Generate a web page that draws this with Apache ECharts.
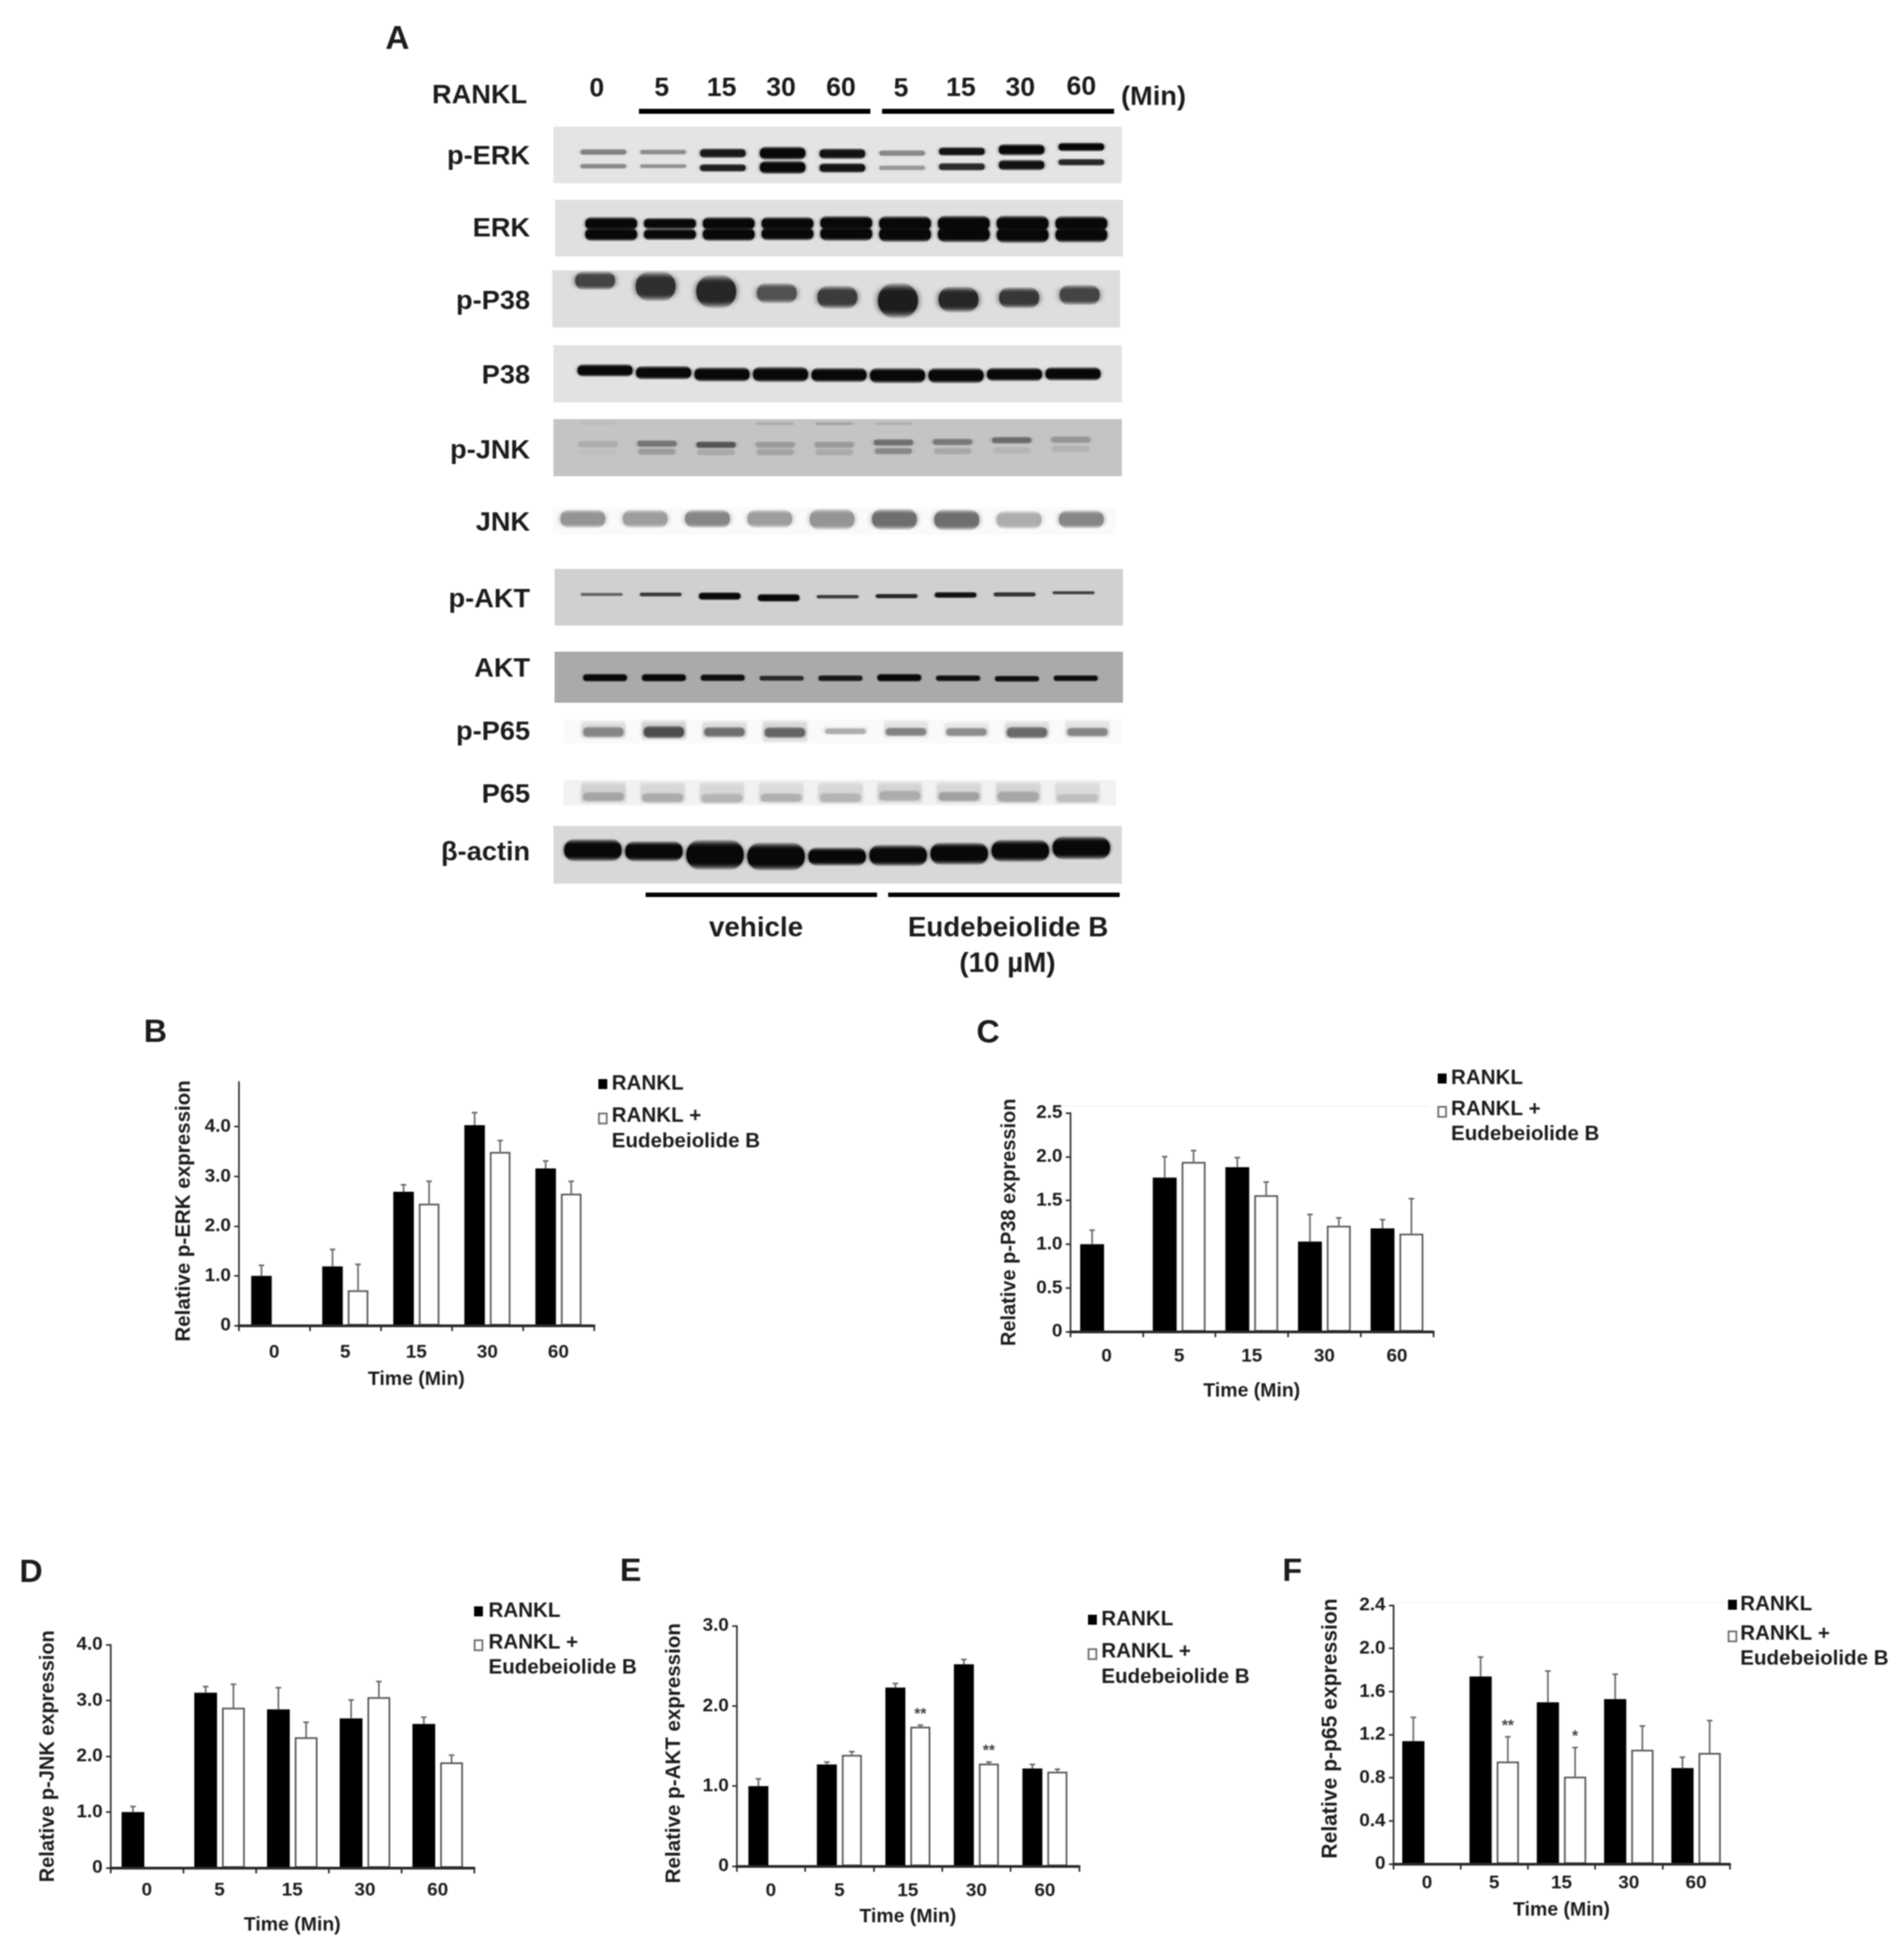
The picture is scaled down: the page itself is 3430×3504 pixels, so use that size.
<!DOCTYPE html>
<html>

<head>
    <meta charset="utf-8">
    <title>RANKL blots and p-protein expression</title>
    <script src="https://cdn.jsdelivr.net/npm/echarts@6/dist/echarts.min.js"></script>
    <style>
        html, body { margin: 0; padding: 0; background: #fff; }
        #main { width: 3430px; height: 3504px; filter: blur(1.1px); }
    </style>
</head>

<body>
    <div id="main"></div>

    <script type="text/javascript">
    var times = ['0', '5', '15', '30', '60'];

    var erkRankl = [1.0, 1.19, 2.69, 4.03, 3.16];
    var erkRanklSd = [0.21, 0.34, 0.14, 0.25, 0.15];
    var erkEude = [null, 0.71, 2.45, 3.49, 2.65];
    var erkEudeSd = [null, 0.52, 0.45, 0.23, 0.25];
    var erkTicks = [0, 1, 2, 3, 4];

    var p38Rankl = [1.0, 1.76, 1.88, 1.03, 1.18];
    var p38RanklSd = [0.16, 0.24, 0.11, 0.31, 0.10];
    var p38Eude = [null, 1.94, 1.56, 1.21, 1.12];
    var p38EudeSd = [null, 0.13, 0.15, 0.09, 0.40];
    var p38Ticks = [0, 0.5, 1, 1.5, 2, 2.5];

    var jnkRankl = [1.0, 3.14, 2.84, 2.68, 2.58];
    var jnkRanklSd = [0.10, 0.11, 0.39, 0.33, 0.12];
    var jnkEude = [null, 2.87, 2.34, 3.06, 1.89];
    var jnkEudeSd = [null, 0.42, 0.27, 0.28, 0.13];
    var jnkTicks = [0, 1, 2, 3, 4];

    var aktRankl = [1.0, 1.27, 2.23, 2.52, 1.22];
    var aktRanklSd = [0.09, 0.03, 0.05, 0.06, 0.05];
    var aktEude = [null, 1.39, 1.74, 1.28, 1.18];
    var aktEudeSd = [null, 0.04, 0.02, 0.02, 0.03];
    var aktMarks = ['', '', '**', '**', ''];
    var aktTicks = [0, 1, 2, 3];

    var p65Rankl = [1.14, 1.74, 1.50, 1.53, 0.89];
    var p65RanklSd = [0.22, 0.18, 0.29, 0.23, 0.10];
    var p65Eude = [null, 0.95, 0.81, 1.06, 1.03];
    var p65EudeSd = [null, 0.23, 0.27, 0.22, 0.30];
    var p65Marks = ['', '**', '*', '', ''];
    var p65Ticks = [0, 0.4, 0.8, 1.2, 1.6, 2, 2.4];

    // blot data, one value per lane: band position (0 top of the blot, 1 bottom),
    // band thickness (same unit) and signal (0 none, 1 black)
    var lanes = ['0', '5', '15', '30', '60', '5', '15', '30', '60'];

    var pErkUpperPos = [.45, .45, .47, .47, .48, .47, .44, .41, .36];
    var pErkUpperThick = [.07, .06, .11, .15, .12, .07, .10, .13, .10];
    var pErkUpperSignal = [.45, .4, .92, 1, .95, .42, .95, 1, 1];
    var pErkLowerPos = [.70, .70, .73, .72, .73, .73, .71, .68, .63];
    var pErkLowerThick = [.06, .05, .09, .15, .11, .06, .09, .12, .08];
    var pErkLowerSignal = [.42, .38, .9, 1, .95, .35, .85, .95, .85];

    var erkUpperPos = [.42, .42, .42, .42, .41, .42, .42, .42, .42];
    var erkLowerPos = [.61, .61, .61, .60, .60, .61, .61, .62, .62];
    var erkThick = [.15, .13, .15, .15, .16, .17, .18, .18, .17];
    var erkSignal = [1, 1, 1, 1, 1, 1, 1, 1, 1];

    var pP38Pos = [.18, .28, .37, .40, .47, .53, .51, .48, .43];
    var pP38Thick = [.20, .32, .36, .22, .25, .38, .28, .23, .22];
    var pP38Signal = [.72, .82, .86, .66, .76, .9, .86, .78, .72];

    var p38Pos = [.44, .48, .51, .51, .52, .53, .53, .51, .50];
    var p38Thick = [.14, .15, .16, .17, .16, .17, .17, .15, .15];
    var p38Signal = [1, 1, 1, 1, 1, 1, 1, 1, 1];

    var pJnkUpperPos = [.44, .43, .45, .45, .45, .41, .40, .37, .36];
    var pJnkUpperSignal = [.12, .42, .6, .22, .22, .45, .4, .48, .25];
    var pJnkLowerPos = [.57, .57, .58, .58, .58, .56, .56, .55, .52];
    var pJnkLowerSignal = [.03, .22, .14, .18, .14, .32, .15, .08, .1];
    var pJnkThick = [.08, .08, .08, .08, .08, .08, .08, .08, .08];
    var pJnkTopPos = [.07, .07, .07, .08, .08, .08, .08, .08, .08];
    var pJnkTopThick = [.04, .04, .04, .04, .04, .04, .04, .04, .04];
    var pJnkTopSignal = [.04, 0, 0, .12, .16, .1, 0, 0, 0];

    var jnkPos = [.42, .42, .42, .42, .44, .44, .46, .46, .44];
    var jnkThick = [.42, .42, .42, .42, .48, .48, .48, .42, .42];
    var jnkSignal = [.42, .38, .48, .38, .42, .58, .58, .32, .48];

    var pAktPos = [.45, .45, .48, .51, .49, .48, .46, .45, .42];
    var pAktThick = [.04, .05, .09, .09, .045, .055, .07, .055, .04];
    var pAktSignal = [.55, .75, 1, 1, .75, .85, .95, .78, .72];

    var aktPos = [.51, .51, .51, .52, .52, .51, .52, .53, .52];
    var aktThick = [.10, .10, .09, .07, .08, .10, .08, .08, .08];
    var aktSignal = [1, 1, .97, .8, .9, 1, .95, .95, .97];

    var pP65Pos = [.53, .53, .53, .55, .50, .52, .53, .55, .53];
    var pP65Thick = [.30, .34, .28, .30, .18, .24, .24, .32, .26];
    var pP65Signal = [.48, .72, .58, .62, .32, .5, .45, .6, .48];
    var pP65SmearPos = [.45, .45, .45, .50, .45, .42, .45, .45, .42];
    var pP65SmearThick = [.5, .55, .5, .6, .25, .5, .45, .5, .5];
    var pP65SmearSignal = [.12, .16, .12, .14, .04, .09, .08, .12, .09];

    var p65Pos = [.66, .70, .72, .70, .70, .62, .65, .66, .72];
    var p65Thick = [.25, .26, .26, .24, .26, .28, .26, .3, .24];
    var p65Signal = [.33, .3, .26, .28, .26, .3, .35, .32, .22];
    var p65SmearPos = [.5, .5, .5, .5, .5, .5, .5, .5, .5];
    var p65SmearThick = [.55, .55, .55, .55, .55, .55, .55, .55, .55];
    var p65SmearSignal = [.14, .11, .11, .1, .11, .13, .11, .13, .1];

    var actinPos = [.42, .44, .50, .53, .53, .51, .48, .43, .38];
    var actinThick = [.24, .22, .32, .30, .20, .23, .24, .24, .25];
    var actinSignal = [1, 1, 1, 1, 1, 1, 1, 1, 1];

    var font = '"Liberation Sans", Arial, sans-serif';
    var ink = '#1c1c1c';

    // band rows are zipped per lane, corner is only set for the square smears
    function row(pos, thick, signal, width, corner) {
        return { pos: pos, thick: thick, signal: signal, width: width, corner: corner };
    }

    // left, top, w, h of each blot, then x of first and last lane
    var blots = [
        { label: 'p-ERK', labelY: 282, left: 997, top: 228, w: 1024, h: 102, lane0: 1087, lane8: 1948, bg: 228, blur: 6,
          rows: [row(pErkUpperPos, pErkUpperThick, pErkUpperSignal, .76), row(pErkLowerPos, pErkLowerThick, pErkLowerSignal, .76)] },
        { label: 'ERK', labelY: 412, left: 1000, top: 360, w: 1023, h: 102, lane0: 1101, lane8: 1948, bg: 224, blur: 6,
          rows: [row(erkUpperPos, erkThick, erkSignal, .88), row(erkLowerPos, erkThick, erkSignal, .88)] },
        { label: 'p-P38', labelY: 543, left: 995, top: 487, w: 1023, h: 103, lane0: 1072, lane8: 1945, bg: 222, blur: 12,
          rows: [row(pP38Pos, pP38Thick, pP38Signal, .66)] },
        { label: 'P38', labelY: 677, left: 997, top: 622, w: 1024, h: 103, lane0: 1090, lane8: 1933, bg: 226, blur: 6,
          rows: [row(p38Pos, p38Thick, p38Signal, .94)] },
        { label: 'p-JNK', labelY: 812, left: 997, top: 755, w: 1024, h: 103, lane0: 1077, lane8: 1929, bg: 196, blur: 8,
          rows: [row(pJnkUpperPos, pJnkThick, pJnkUpperSignal, .66), row(pJnkLowerPos, pJnkThick, pJnkLowerSignal, .62), row(pJnkTopPos, pJnkTopThick, pJnkTopSignal, .62)] },
        { label: 'JNK', labelY: 942, left: 996, top: 914, w: 1014, h: 49, lane0: 1050, lane8: 1948, bg: 250, blur: 10,
          rows: [row(jnkPos, jnkThick, jnkSignal, .72)] },
        { label: 'p-AKT', labelY: 1080, left: 999, top: 1025, w: 1024, h: 102, lane0: 1084, lane8: 1934, bg: 208, blur: 4,
          rows: [row(pAktPos, pAktThick, pAktSignal, .70)] },
        { label: 'AKT', labelY: 1205, left: 999, top: 1174, w: 1024, h: 92, lane0: 1090, lane8: 1938, bg: 170, blur: 4,
          rows: [row(aktPos, aktThick, aktSignal, .74)] },
        { label: 'p-P65', labelY: 1319, left: 1015, top: 1296, w: 1005, h: 43, lane0: 1087, lane8: 1959, bg: 250, blur: 6,
          rows: [row(pP65SmearPos, pP65SmearThick, pP65SmearSignal, .72, 3), row(pP65Pos, pP65Thick, pP65Signal, .66)] },
        { label: 'P65', labelY: 1432, left: 1015, top: 1405, w: 995, h: 46, lane0: 1087, lane8: 1941, bg: 242, blur: 6,
          rows: [row(p65SmearPos, p65SmearThick, p65SmearSignal, .74, 3), row(p65Pos, p65Thick, p65Signal, .68)] },
        { label: '\u03b2-actin', labelY: 1536, left: 997, top: 1488, w: 1024, h: 104, lane0: 1068, lane8: 1948, bg: 216, blur: 6,
          rows: [row(actinPos, actinThick, actinSignal, .94)] }
    ];

    var panels = [
        { letter: 'B', letterX: 280, letterY: 1861, yName: 'Relative p-ERK expression', nameSize: 37, namePad: [0, 26, 0, 0], nameGap: 80, timeGap: 80, labelGap: 32,
          left: 430, right: 1070, top: 1949, bottom: 2388, max: 4.9, ticks: erkTicks, barW: 37,
          rankl: erkRankl, ranklSd: erkRanklSd, eude: erkEude, eudeSd: erkEudeSd, marks: null,
          legX: 1078, legTextX: 1102, legY: [1953, 2015, 2011, 2057] },
        { letter: 'C', letterX: 1780, letterY: 1862, yName: 'Relative p-P38 expression', nameSize: 36, namePad: 0, nameGap: 91, timeGap: 90, labelGap: 28,
          left: 1928, right: 2582, top: 2005, bottom: 2399, max: 2.5, ticks: p38Ticks, barW: 43,
          rankl: p38Rankl, ranklSd: p38RanklSd, eude: p38Eude, eudeSd: p38EudeSd, marks: null,
          legX: 2590, legTextX: 2614, legY: [1943, 2003, 1999, 2044], faint: [1915, 1992, 660] },
        { letter: 'D', letterX: 56, letterY: 2834, yName: 'Relative p-JNK expression', nameSize: 36, namePad: 0, nameGap: 94, timeGap: 86, labelGap: 24,
          left: 199, right: 854, top: 2963, bottom: 3365, max: 4, ticks: jnkTicks, barW: 41,
          rankl: jnkRankl, ranklSd: jnkRanklSd, eude: jnkEude, eudeSd: jnkEudeSd, marks: null,
          legX: 854, legTextX: 880, legY: [2903, 2964, 2960, 3005] },
        { letter: 'E', letterX: 1136, letterY: 2832, yName: 'Relative p-AKT expression', nameSize: 37, namePad: [0, 26, 0, 0], nameGap: 94, timeGap: 74, labelGap: 28,
          left: 1327, right: 1944, top: 2929, bottom: 3362, max: 3, ticks: aktTicks, barW: 36,
          rankl: aktRankl, ranklSd: aktRanklSd, eude: aktEude, eudeSd: aktEudeSd, marks: aktMarks,
          legX: 1960, legTextX: 1984, legY: [2918, 2980, 2976, 3022] },
        { letter: 'F', letterX: 2328, letterY: 2832, yName: 'Relative p-p65 expression', nameSize: 38, namePad: [0, 0, 0, 22], nameGap: 93, timeGap: 66, labelGap: 18,
          left: 2510, right: 3116, top: 2892, bottom: 3358, max: 2.4, ticks: p65Ticks, barW: 40,
          rankl: p65Rankl, ranklSd: p65RanklSd, eude: p65Eude, eudeSd: p65EudeSd, marks: p65Marks,
          legX: 3113, legTextX: 3135, legY: [2891, 2948, 2944, 2989], faint: [2515, 2886, 595] }
    ];

    var barGapPx = 9;

    var grid = [];
    var xAxis = [];
    var yAxis = [];
    var series = [];
    var graphic = [];

    function text(str, x, y, size, align) {
        graphic.push({
            type: 'text', x: x, y: y, silent: true,
            style: {
                text: str, fill: ink, fontFamily: font, fontWeight: 'bold', fontSize: size,
                textAlign: align || 'center', textVerticalAlign: 'middle',
                align: align || 'center', verticalAlign: 'middle'
            }
        });
    }

    function box(x, y, w, h, fill, stroke, lineWidth) {
        graphic.push({
            type: 'rect', silent: true,
            shape: { x: x, y: y, width: w, height: h },
            style: { fill: fill, stroke: stroke || null, lineWidth: lineWidth || 0 }
        });
    }

    // western blots
    blots.forEach(function (b) {
        var idx = grid.length;
        var step = (b.lane8 - b.lane0) / 8;
        grid.push({
            left: b.left, top: b.top, width: b.w, height: b.h,
            show: true, backgroundColor: 'rgb(' + b.bg + ',' + b.bg + ',' + b.bg + ')', borderWidth: 0
        });
        xAxis.push({
            type: 'value', gridIndex: idx, show: false,
            min: (b.left - b.lane0) / step, max: (b.left + b.w - b.lane0) / step
        });
        yAxis.push({ type: 'value', gridIndex: idx, show: false, inverse: true, min: 0, max: 1 });

        b.rows.forEach(function (r) {
            var rowData = lanes.map(function (l, i) {
                return [i, r.pos[i], r.thick[i], r.signal[i]];
            });
            series.push({
                type: 'custom', xAxisIndex: idx, yAxisIndex: idx, silent: true, data: rowData,
                encode: { x: 0, y: 1 },
                renderItem: function (params, api) {
                    var c = api.coord([api.value(0), api.value(1)]);
                    // soft top and bottom edge, so the band is drawn taller than its core
                    var h = api.size([0, api.value(2)])[1] * 1.7;
                    var w = api.size([r.width, 0])[0];
                    var g = Math.round(b.bg - (b.bg - 8) * api.value(3));
                    var col = 'rgb(' + g + ',' + g + ',' + g + ')';
                    var edge = 'rgba(' + g + ',' + g + ',' + g + ',0)';
                    return {
                        type: 'rect',
                        shape: { x: c[0] - w / 2, y: c[1] - h / 2, width: w, height: h, r: r.corner || h / 2 },
                        style: {
                            fill: {
                                type: 'linear', x: 0, y: 0, x2: 0, y2: 1,
                                colorStops: [
                                    { offset: 0, color: edge }, { offset: 0.28, color: col },
                                    { offset: 0.72, color: col }, { offset: 1, color: edge }
                                ]
                            },
                            shadowBlur: b.blur, shadowColor: col
                        }
                    };
                }
            });
        });

        text(b.label, 955, b.labelY, 49, 'right');
    });

    // header and treatment lines of panel A
    text('A', 716, 71, 60);
    text('RANKL', 864, 172, 49);
    var laneHeadX = [1075, 1192, 1300, 1407, 1515, 1623, 1731, 1838, 1948];
    var laneHeadY = [161, 160, 160, 160, 160, 161, 160, 160, 158];
    lanes.forEach(function (l, i) {
        text(l, laneHeadX[i], laneHeadY[i], 48);
    });
    text('(Min)', 2078, 175, 49);
    box(1151, 196, 417, 9, '#000');
    box(1589, 196, 418, 9, '#000');
    box(1163, 1608, 417, 8, '#000');
    box(1600, 1608, 417, 8, '#000');
    text('vehicle', 1362, 1673, 50);
    text('Eudebeiolide B', 1816, 1673, 50);
    text('(10 \u00b5M)', 1815, 1737, 50);

    // bar panels
    panels.forEach(function (p) {
        var idx = grid.length;
        var shift = (p.barW + barGapPx) / 2;
        grid.push({ left: p.left, top: p.top, width: p.right - p.left, height: p.bottom - p.top });
        xAxis.push({
            type: 'category', gridIndex: idx, data: times,
            name: 'Time (Min)', nameLocation: 'middle', nameGap: p.timeGap,
            nameTextStyle: { fontFamily: font, fontWeight: 'bold', fontSize: 35, color: ink },
            axisLine: { onZero: false, lineStyle: { color: '#2a2a2a', width: 5 } },
            axisTick: { show: true, alignWithLabel: false, length: 10, lineStyle: { color: '#2a2a2a', width: 3 } },
            axisLabel: { margin: p.labelGap, fontFamily: font, fontWeight: 'bold', fontSize: 34, color: ink },
            z: 5
        });
        yAxis.push({
            type: 'value', gridIndex: idx, min: 0, max: p.max,
            name: p.yName, nameLocation: 'middle', nameRotate: 90, nameGap: p.nameGap,
            nameTextStyle: { fontFamily: font, fontWeight: 'bold', fontSize: p.nameSize, color: ink, padding: p.namePad },
            splitLine: { show: false },
            axisLine: { show: true, lineStyle: { color: '#333', width: 3 } },
            axisTick: { show: true, length: 8, customValues: p.ticks, lineStyle: { color: '#333', width: 3 } },
            axisLabel: {
                margin: 14, customValues: p.ticks, fontFamily: font, fontWeight: 'bold', fontSize: 34, color: ink,
                formatter: function (v) { return v === 0 ? '0' : v.toFixed(1); }
            }
        });
        series.push({
            name: 'RANKL', type: 'bar', xAxisIndex: idx, yAxisIndex: idx, silent: true,
            data: p.rankl, barWidth: p.barW, barGap: (barGapPx / p.barW * 100) + '%',
            itemStyle: { color: '#000' }
        });
        series.push({
            name: 'RANKL + Eudebeiolide B', type: 'bar', xAxisIndex: idx, yAxisIndex: idx, silent: true,
            data: p.eude, barWidth: p.barW, barGap: (barGapPx / p.barW * 100) + '%',
            itemStyle: { color: '#fff', borderColor: '#555', borderWidth: 3 }
        });

        [[p.rankl, p.ranklSd, -shift, null], [p.eude, p.eudeSd, shift, p.marks]].forEach(function (set) {
            var errData = times.map(function (t, i) {
                return set[0][i] === null ? [i, '-', '-'] : [i, set[0][i], set[0][i] + set[1][i]];
            });
            series.push({
                type: 'custom', xAxisIndex: idx, yAxisIndex: idx, silent: true, data: errData,
                encode: { x: 0, y: [1, 2] }, z: 3,
                renderItem: function (params, api) {
                    if (isNaN(api.value(1))) { return; }
                    var base = api.coord([api.value(0), api.value(1)]);
                    var top = api.coord([api.value(0), api.value(2)]);
                    var x = base[0] + set[2];
                    var lineStyle = { stroke: '#6a6a6a', lineWidth: 3 };
                    var children = [
                        { type: 'line', shape: { x1: x, y1: base[1], x2: x, y2: top[1] }, style: lineStyle },
                        { type: 'line', shape: { x1: x - 5, y1: top[1], x2: x + 5, y2: top[1] }, style: lineStyle }
                    ];
                    var mark = set[3] && set[3][params.dataIndex];
                    if (mark) {
                        children.push({
                            type: 'text', x: x, y: top[1] - 20,
                            style: {
                                text: mark, fill: '#444', fontFamily: font, fontWeight: 'bold', fontSize: 28,
                                textAlign: 'center', textVerticalAlign: 'middle', align: 'center', verticalAlign: 'middle'
                            }
                        });
                    }
                    return { type: 'group', children: children };
                }
            });
        });

        text(p.letter, p.letterX, p.letterY, 58);
        box(p.legX, p.legY[0] - 9, 16, 18, '#000');
        box(p.legX + 1, p.legY[1] - 9, 14, 18, '#fff', '#666', 3);
        text('RANKL', p.legTextX, p.legY[0], 37, 'left');
        text('RANKL +', p.legTextX, p.legY[2], 37, 'left');
        text('Eudebeiolide B', p.legTextX, p.legY[3], 37, 'left');
        if (p.faint) {
            box(p.faint[0], p.faint[1], p.faint[2], 2, '#f2f2f2');
        }
    });

    var myChart = echarts.init(document.getElementById('main'), null, { renderer: 'canvas' });
    myChart.setOption({
        backgroundColor: '#fff',
        animation: false,
        grid: grid,
        xAxis: xAxis,
        yAxis: yAxis,
        series: series,
        graphic: { elements: graphic }
    });
    </script>
</body>

</html>
